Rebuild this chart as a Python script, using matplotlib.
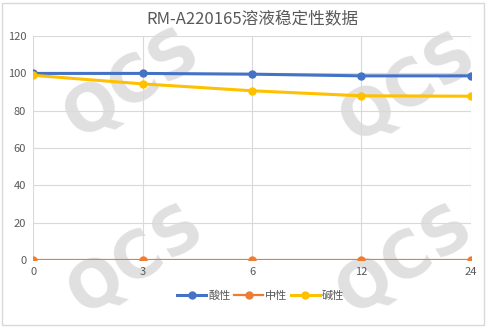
import matplotlib.pyplot as plt
from matplotlib.patches import Rectangle

plt.rcParams['font.family'] = ['Noto Sans CJK SC', 'DejaVu Sans']

hours = ['0', '3', '6', '12', '24']
acid = [100.0, 100.0, 99.6, 98.7, 98.7]
neutral = [0, 0, 0, 0, 0]
alkali = [99.0, 94.4, 90.7, 88.0, 87.8]

fig = plt.figure(figsize=(4.87, 3.28), dpi=100)
ax = fig.add_axes([0.068, 0.207, 0.899, 0.683])
ax.patch.set_alpha(0)

x = range(len(hours))
ax.plot(x, acid, color='#4472C4', lw=2.2, marker='o', ms=5, label='酸性', zorder=5)
ax.plot(x, neutral, color='#ED7D31', lw=1.6, marker='o', ms=5, label='中性', zorder=5)
ax.plot(x, alkali, color='#FFC000', lw=2.2, marker='o', ms=5, label='碱性', zorder=5)

ax.set_xlim(0, 4)
ax.set_ylim(0, 120)
ax.set_yticks(range(0, 121, 20))
ax.set_xticks(list(x))
ax.set_xticklabels(hours)
ax.grid(True, color='#d9d9d9', lw=0.8)
ax.set_axisbelow(True)
for s in ax.spines.values():
    s.set_visible(False)
ax.tick_params(length=0, labelsize=8, labelcolor='#595959', pad=5)
ax.set_title('RM-A220165溶液稳定性数据', fontsize=12, color='#595959', pad=9)

# watermarks (under the grid)
for (wx, wy) in [(132, 84), (136, 260), (408, 88), (405, 260)]:
    fig.text(wx / 487, 1 - wy / 328, 'QCS', fontsize=46, fontweight='bold',
             color='#e0e0e0', rotation=33, ha='center', va='center',
             family='DejaVu Sans', zorder=-1)

leg = ax.legend(loc='upper center', bbox_to_anchor=(0.52, -0.09), ncol=3,
                frameon=False, fontsize=8, handlelength=2.6, handletextpad=0.2,
                columnspacing=0.3)
for t in leg.get_texts():
    t.set_color('#595959')

fig.patches.append(Rectangle((2 / 487, 3 / 328), 482 / 487, 322 / 328,
                             transform=fig.transFigure, fill=False,
                             edgecolor='#d9d9d9', lw=1))
fig.savefig('out.png', dpi=100)
